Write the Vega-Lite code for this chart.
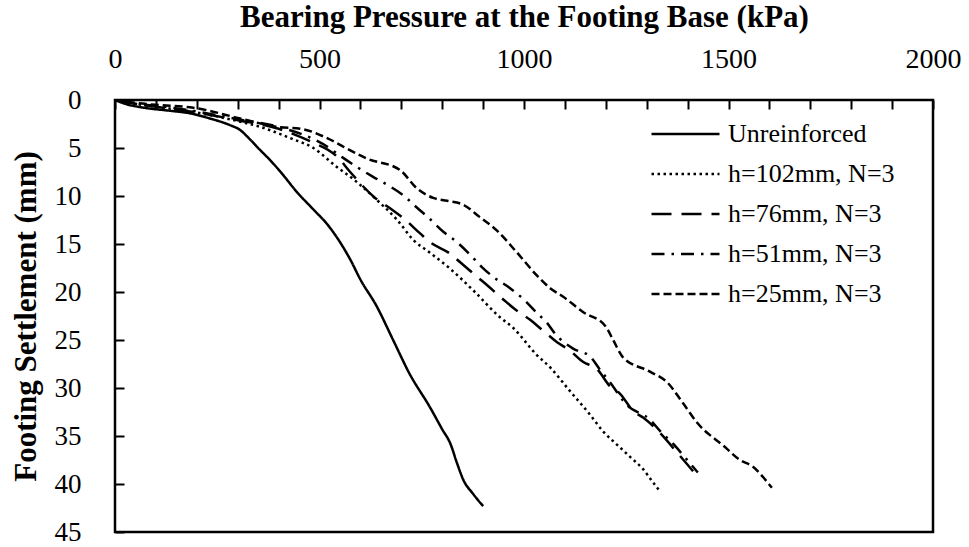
{
  "$schema": "https://vega.github.io/schema/vega-lite/v6.json",
  "width": 818,
  "height": 432,
  "autosize": {"type": "none"},
  "padding": {"left": 115, "top": 100, "right": 36, "bottom": 15},
  "background": "white",
  "config": {
    "view": {"stroke": "black", "strokeWidth": 2.5},
    "font": "Liberation Serif"
  },
  "data": {
    "values": [
      {"s":"Unreinforced","p":0,"d":0},{"s":"Unreinforced","p":25,"d":0.4},{"s":"Unreinforced","p":70,"d":0.8},{"s":"Unreinforced","p":130,"d":1.1},{"s":"Unreinforced","p":185,"d":1.4},{"s":"Unreinforced","p":230,"d":1.9},{"s":"Unreinforced","p":280,"d":2.6},{"s":"Unreinforced","p":305,"d":3.1},{"s":"Unreinforced","p":330,"d":4.1},{"s":"Unreinforced","p":350,"d":5.0},{"s":"Unreinforced","p":380,"d":6.3},{"s":"Unreinforced","p":405,"d":7.5},{"s":"Unreinforced","p":445,"d":9.6},{"s":"Unreinforced","p":485,"d":11.4},{"s":"Unreinforced","p":520,"d":13.0},{"s":"Unreinforced","p":550,"d":14.8},{"s":"Unreinforced","p":575,"d":16.6},{"s":"Unreinforced","p":600,"d":18.7},{"s":"Unreinforced","p":640,"d":21.5},{"s":"Unreinforced","p":680,"d":25.0},{"s":"Unreinforced","p":720,"d":28.5},{"s":"Unreinforced","p":770,"d":32.0},{"s":"Unreinforced","p":800,"d":34.3},{"s":"Unreinforced","p":820,"d":35.8},{"s":"Unreinforced","p":836,"d":37.8},{"s":"Unreinforced","p":852,"d":39.6},{"s":"Unreinforced","p":875,"d":41.0},{"s":"Unreinforced","p":900,"d":42.3},
      {"s":"h=102mm, N=3","p":0,"d":0},{"s":"h=102mm, N=3","p":50,"d":0.4},{"s":"h=102mm, N=3","p":100,"d":0.7},{"s":"h=102mm, N=3","p":200,"d":1.3},{"s":"h=102mm, N=3","p":300,"d":2.2},{"s":"h=102mm, N=3","p":355,"d":2.8},{"s":"h=102mm, N=3","p":430,"d":4.0},{"s":"h=102mm, N=3","p":485,"d":5.0},{"s":"h=102mm, N=3","p":540,"d":6.9},{"s":"h=102mm, N=3","p":590,"d":8.5},{"s":"h=102mm, N=3","p":640,"d":10.4},{"s":"h=102mm, N=3","p":690,"d":12.5},{"s":"h=102mm, N=3","p":730,"d":14.6},{"s":"h=102mm, N=3","p":770,"d":15.9},{"s":"h=102mm, N=3","p":820,"d":17.6},{"s":"h=102mm, N=3","p":880,"d":20.0},{"s":"h=102mm, N=3","p":935,"d":22.4},{"s":"h=102mm, N=3","p":975,"d":23.8},{"s":"h=102mm, N=3","p":1030,"d":26.5},{"s":"h=102mm, N=3","p":1065,"d":27.9},{"s":"h=102mm, N=3","p":1110,"d":30.2},{"s":"h=102mm, N=3","p":1160,"d":32.7},{"s":"h=102mm, N=3","p":1195,"d":34.6},{"s":"h=102mm, N=3","p":1230,"d":36.0},{"s":"h=102mm, N=3","p":1260,"d":37.2},{"s":"h=102mm, N=3","p":1290,"d":38.4},{"s":"h=102mm, N=3","p":1315,"d":39.8},{"s":"h=102mm, N=3","p":1333,"d":40.8},
      {"s":"h=76mm, N=3","p":0,"d":0},{"s":"h=76mm, N=3","p":50,"d":0.4},{"s":"h=76mm, N=3","p":100,"d":0.7},{"s":"h=76mm, N=3","p":200,"d":1.3},{"s":"h=76mm, N=3","p":300,"d":2.1},{"s":"h=76mm, N=3","p":400,"d":3.0},{"s":"h=76mm, N=3","p":477,"d":4.3},{"s":"h=76mm, N=3","p":543,"d":5.9},{"s":"h=76mm, N=3","p":575,"d":7.5},{"s":"h=76mm, N=3","p":636,"d":10.2},{"s":"h=76mm, N=3","p":680,"d":11.5},{"s":"h=76mm, N=3","p":705,"d":12.3},{"s":"h=76mm, N=3","p":746,"d":13.9},{"s":"h=76mm, N=3","p":770,"d":14.8},{"s":"h=76mm, N=3","p":819,"d":16.0},{"s":"h=76mm, N=3","p":844,"d":16.9},{"s":"h=76mm, N=3","p":885,"d":18.4},{"s":"h=76mm, N=3","p":910,"d":19.3},{"s":"h=76mm, N=3","p":950,"d":20.8},{"s":"h=76mm, N=3","p":975,"d":21.7},{"s":"h=76mm, N=3","p":1015,"d":22.9},{"s":"h=76mm, N=3","p":1046,"d":24.0},{"s":"h=76mm, N=3","p":1080,"d":25.2},{"s":"h=76mm, N=3","p":1112,"d":26.1},{"s":"h=76mm, N=3","p":1145,"d":27.3},{"s":"h=76mm, N=3","p":1178,"d":28.0},{"s":"h=76mm, N=3","p":1210,"d":29.8},{"s":"h=76mm, N=3","p":1235,"d":30.6},{"s":"h=76mm, N=3","p":1267,"d":32.4},{"s":"h=76mm, N=3","p":1292,"d":33.1},{"s":"h=76mm, N=3","p":1333,"d":34.7},{"s":"h=76mm, N=3","p":1370,"d":36.5},{"s":"h=76mm, N=3","p":1400,"d":38.0},{"s":"h=76mm, N=3","p":1420,"d":39.0},
      {"s":"h=51mm, N=3","p":0,"d":0},{"s":"h=51mm, N=3","p":50,"d":0.4},{"s":"h=51mm, N=3","p":100,"d":0.6},{"s":"h=51mm, N=3","p":200,"d":1.2},{"s":"h=51mm, N=3","p":300,"d":2.0},{"s":"h=51mm, N=3","p":400,"d":2.8},{"s":"h=51mm, N=3","p":509,"d":4.6},{"s":"h=51mm, N=3","p":557,"d":6.0},{"s":"h=51mm, N=3","p":592,"d":7.0},{"s":"h=51mm, N=3","p":631,"d":8.0},{"s":"h=51mm, N=3","p":668,"d":8.9},{"s":"h=51mm, N=3","p":704,"d":9.9},{"s":"h=51mm, N=3","p":738,"d":11.2},{"s":"h=51mm, N=3","p":770,"d":12.4},{"s":"h=51mm, N=3","p":802,"d":13.7},{"s":"h=51mm, N=3","p":836,"d":14.8},{"s":"h=51mm, N=3","p":868,"d":16.1},{"s":"h=51mm, N=3","p":897,"d":17.4},{"s":"h=51mm, N=3","p":924,"d":18.4},{"s":"h=51mm, N=3","p":966,"d":19.6},{"s":"h=51mm, N=3","p":1000,"d":20.8},{"s":"h=51mm, N=3","p":1032,"d":22.2},{"s":"h=51mm, N=3","p":1056,"d":23.2},{"s":"h=51mm, N=3","p":1075,"d":24.3},{"s":"h=51mm, N=3","p":1120,"d":25.9},{"s":"h=51mm, N=3","p":1161,"d":26.7},{"s":"h=51mm, N=3","p":1186,"d":28.1},{"s":"h=51mm, N=3","p":1210,"d":29.4},{"s":"h=51mm, N=3","p":1252,"d":31.8},{"s":"h=51mm, N=3","p":1308,"d":33.3},{"s":"h=51mm, N=3","p":1333,"d":34.5},{"s":"h=51mm, N=3","p":1362,"d":35.7},{"s":"h=51mm, N=3","p":1395,"d":37.3},{"s":"h=51mm, N=3","p":1425,"d":38.8},
      {"s":"h=25mm, N=3","p":0,"d":0},{"s":"h=25mm, N=3","p":50,"d":0.3},{"s":"h=25mm, N=3","p":100,"d":0.5},{"s":"h=25mm, N=3","p":191,"d":0.8},{"s":"h=25mm, N=3","p":313,"d":2.0},{"s":"h=25mm, N=3","p":396,"d":2.8},{"s":"h=25mm, N=3","p":455,"d":3.0},{"s":"h=25mm, N=3","p":520,"d":4.0},{"s":"h=25mm, N=3","p":560,"d":4.9},{"s":"h=25mm, N=3","p":616,"d":6.1},{"s":"h=25mm, N=3","p":697,"d":7.3},{"s":"h=25mm, N=3","p":738,"d":9.2},{"s":"h=25mm, N=3","p":778,"d":10.2},{"s":"h=25mm, N=3","p":812,"d":10.5},{"s":"h=25mm, N=3","p":851,"d":10.9},{"s":"h=25mm, N=3","p":892,"d":12.2},{"s":"h=25mm, N=3","p":934,"d":13.6},{"s":"h=25mm, N=3","p":983,"d":15.9},{"s":"h=25mm, N=3","p":1032,"d":18.3},{"s":"h=25mm, N=3","p":1064,"d":19.6},{"s":"h=25mm, N=3","p":1096,"d":20.5},{"s":"h=25mm, N=3","p":1145,"d":22.1},{"s":"h=25mm, N=3","p":1200,"d":23.6},{"s":"h=25mm, N=3","p":1218,"d":25.0},{"s":"h=25mm, N=3","p":1242,"d":26.8},{"s":"h=25mm, N=3","p":1308,"d":28.3},{"s":"h=25mm, N=3","p":1350,"d":29.4},{"s":"h=25mm, N=3","p":1389,"d":31.6},{"s":"h=25mm, N=3","p":1423,"d":33.6},{"s":"h=25mm, N=3","p":1490,"d":36.1},{"s":"h=25mm, N=3","p":1528,"d":37.5},{"s":"h=25mm, N=3","p":1560,"d":38.2},{"s":"h=25mm, N=3","p":1585,"d":39.3},{"s":"h=25mm, N=3","p":1606,"d":40.4}
    ]
  },
  "mark": {"type": "line", "color": "black", "strokeWidth": 2.5, "interpolate": "monotone", "clip": true},
  "encoding": {
    "x": {
      "field": "p", "type": "quantitative",
      "scale": {"domain": [0, 2000], "nice": false},
      "axis": {
        "orient": "top", "grid": false, "domain": false,
        "title": "Bearing Pressure at the Footing Base (kPa)",
        "titleFont": "Liberation Serif", "titleColor": "black",
        "titleFontSize": 31, "titleFontWeight": "bold", "titlePadding": 12,
        "values": [0,100,200,300,400,500,600,700,800,900,1000,1100,1200,1300,1400,1500,1600,1700,1800,1900,2000],
        "format": "d",
        "labelExpr": "datum.value % 500 === 0 ? datum.label : ''",
        "labelFont": "Liberation Serif", "labelColor": "black",
        "labelFontSize": 28, "tickColor": "black", "tickWidth": 2, "tickSize": -9, "labelPadding": 36, "labelFlush": false
      }
    },
    "y": {
      "field": "d", "type": "quantitative",
      "scale": {"domain": [0, 45], "reverse": true, "nice": false},
      "axis": {
        "grid": false, "domain": false,
        "title": "Footing Settlement (mm)",
        "titleFont": "Liberation Serif", "titleColor": "black",
        "titleFontSize": 31, "titleFontWeight": "bold", "titlePadding": 12,
        "values": [0,5,10,15,20,25,30,35,40,45],
        "format": "d",
        "labelFont": "Liberation Serif", "labelColor": "black",
        "labelFontSize": 27, "tickColor": "black", "tickWidth": 2, "tickSize": -9, "labelPadding": 43, "labelFlush": false
      }
    },
    "strokeDash": {
      "field": "s", "type": "nominal",
      "scale": {
        "domain": ["Unreinforced", "h=102mm, N=3", "h=76mm, N=3", "h=51mm, N=3", "h=25mm, N=3"],
        "range": [[1, 0], [2.5, 3.5], [20, 10], [13, 7, 2.5, 7], [8, 4]]
      },
      "legend": {
        "title": null, "orient": "none", "legendX": 535, "legendY": 21,
        "symbolType": "stroke", "symbolSize": 4624, "symbolStrokeWidth": 2.5, "symbolStrokeColor": "black",
        "labelFontSize": 26, "labelFont": "Liberation Serif", "labelColor": "black", "labelOffset": 7,
        "rowPadding": 14, "clipHeight": 26, "padding": 0, "labelLimit": 400
      }
    }
  }
}
